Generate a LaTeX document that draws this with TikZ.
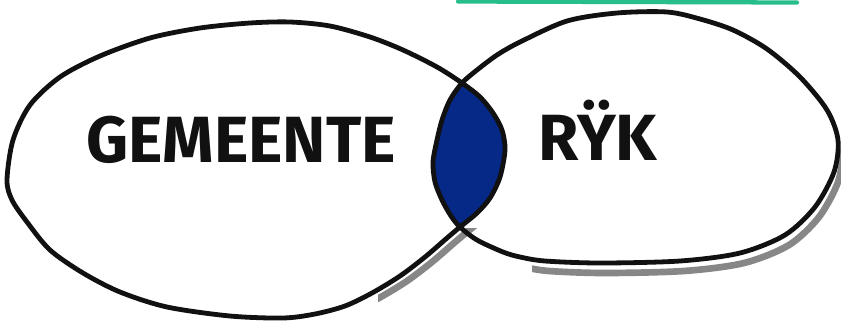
\documentclass[tikz,border=0pt]{standalone}
\usepackage{fontspec}
\setmainfont{Fira Sans}
\definecolor{lensblue}{RGB}{6,40,134}
\definecolor{brushgreen}{RGB}{40,190,140}
\definecolor{inkblack}{RGB}{17,17,17}
\definecolor{shadowgray}{RGB}{135,135,135}
\newcommand\leftcurve{plot[smooth cycle, tension=0.5] coordinates {(7,180) (13,140) (30,105) (60,77) (100,56) (150,38) (200,28) (250,23) (290,22) (330,26) (370,37) (403,50) (437,67) (462,83) (480,97) (493,113) (502,130) (505,150) (500,177) (490,198) (477,213) (460,227) (447,238) (425,257) (400,276) (372,293) (345,306) (315,314) (283,318) (230,316) (167,307) (120,292) (83,273) (50,250) (27,222) (12,200)}}
\newcommand\rightcurve{plot[smooth cycle, tension=0.5] coordinates {(433,162) (437,140) (442,120) (450,100) (462,83) (477,70) (497,55) (520,42) (567,21) (617,13) (667,12) (700,19) (733,30) (767,49) (800,77) (827,110) (838,140) (834,172) (815,207) (785,235) (740,253) (680,261) (600,263) (545,261) (520,257) (503,252) (477,240) (460,227) (451,216) (442,200) (435,182)}}
\tikzset{
  outline/.style={draw=inkblack, line width=3.6pt, line join=round},
  shadowline/.style={draw=shadowgray, line width=5pt},
  lbl/.style={inner sep=0pt, text=inkblack, font=\fontsize{49}{49}\selectfont\bfseries}
}
\begin{document}
\begin{tikzpicture}[x=0.75pt,y=-0.75pt]
\useasboundingbox (0,0) rectangle (841,325);
% green brush stroke at the top
\draw[brushgreen, line width=3.2pt, line cap=round] (458,1.5) -- (797,2.5);
% shadows
\begin{scope}
  \clip (378,228) rectangle (482,325);
  \draw[shadowline, shift={(7,5)}] \leftcurve;
\end{scope}
\begin{scope}
  \clip (532,150) rectangle (841,325);
  \draw[shadowline, shift={(4,10)}] \rightcurve;
\end{scope}
% lens
\begin{scope}
  \clip \leftcurve;
  \fill[lensblue] \rightcurve;
\end{scope}
% outlines
\draw[outline] \leftcurve;
\draw[outline] \rightcurve;
% labels
\node[lbl, anchor=base] (gem) at (241,162) {GEMEENTE};
\node[lbl, anchor=base] (rijk) at (598,160) {RŸK};
\end{tikzpicture}
\end{document}
